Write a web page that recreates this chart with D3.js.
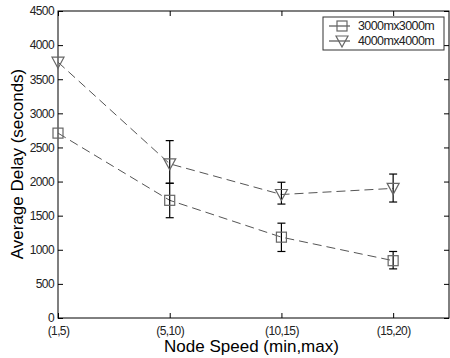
<!DOCTYPE html>
<html lang="en">
<head>
  <meta charset="UTF-8">
  <title>Average Delay vs Node Speed</title>
  <script src="https://d3js.org/d3.v7.min.js"></script>
  <style>
    body { margin: 0; background: #fff; }
    text { font-family: "Liberation Sans", Arial, sans-serif; }
  </style>
</head>
<body>
  <svg width="450" height="358"></svg>

  <script>
    // Categories and values
    var speeds = ["(1,5)", "(5,10)", "(10,15)", "(15,20)"];
    var seriesNames = ["3000mx3000m", "4000mx4000m"];
    var delaySmall = [2710, 1725, 1185, 840];
    var lowSmall = [null, 1470, 975, 720];
    var highSmall = [null, 1975, 1390, 975];
    var delayLarge = [3750, 2260, 1810, 1900];
    var lowLarge = [null, 1975, 1670, 1700];
    var highLarge = [null, 2600, 1990, 2110];
    var yTicks = [0, 500, 1000, 1500, 2000, 2500, 3000, 3500, 4000, 4500];

    var svg = d3.select("svg");
    var padL = 58, padR = 449, padT = 11, padB = 318;

    var x = d3.scaleLinear().domain([0, 3.5]).range([padL, padR]);
    var y = d3.scaleLinear().domain([0, 4500]).range([padB, padT]);

    // Frame
    svg.append("rect")
        .attr("x", padL).attr("y", padT)
        .attr("width", padR - padL).attr("height", padB - padT)
        .attr("fill", "none").attr("stroke", "#000").attr("stroke-width", 1);

    // Axes (ticks pointing inward)
    var yAxis = d3.axisLeft(y).tickValues(yTicks).tickFormat(d3.format("d"))
        .tickSize(-5).tickPadding(4);
    var yG = svg.append("g").attr("transform", "translate(" + padL + ",0)").call(yAxis);
    var yR = svg.append("g").attr("transform", "translate(" + padR + ",0)")
        .call(d3.axisRight(y).tickValues(yTicks).tickSize(-5).tickFormat(""));

    var xAxis = d3.axisBottom(x).tickValues(d3.range(speeds.length))
        .tickFormat(function(i) { return speeds[i]; }).tickSize(-5).tickPadding(5);
    var xG = svg.append("g").attr("transform", "translate(0," + padB + ")").call(xAxis);
    var xT = svg.append("g").attr("transform", "translate(0," + padT + ")")
        .call(d3.axisTop(x).tickValues(d3.range(speeds.length)).tickSize(-5).tickFormat(""));

    [yG, yR, xG, xT].forEach(function(g) {
      g.select(".domain").remove();
      g.selectAll("text")
          .attr("font-size", 12)
          .attr("fill", "#222")
          .attr("letter-spacing", "-0.6px");
      g.selectAll("line").attr("stroke", "#000");
    });
    xG.selectAll("text").attr("dy", "1em");

    // Axis titles
    svg.append("text")
        .attr("x", (padL + padR) / 2 - 2).attr("y", 352)
        .attr("text-anchor", "middle").attr("font-size", 17)
        .text("Node Speed (min,max)");
    svg.append("text")
        .attr("transform", "translate(23," + 164 + ") rotate(-90)")
        .attr("text-anchor", "middle").attr("font-size", 17)
        .text("Average Delay (seconds)");

    var line = d3.line()
        .x(function(d, i) { return x(i); })
        .y(function(d) { return y(d); });

    var series = [
      { name: seriesNames[0], vals: delaySmall, lo: lowSmall, hi: highSmall, marker: "square" },
      { name: seriesNames[1], vals: delayLarge, lo: lowLarge, hi: highLarge, marker: "tri" }
    ];

    function drawMarker(g, type, cx, cy) {
      if (type === "square") {
        g.append("rect")
            .attr("x", cx - 5).attr("y", cy - 5)
            .attr("width", 10).attr("height", 10)
            .attr("fill", "none").attr("stroke", "#666").attr("stroke-width", 1.2);
      } else {
        g.append("path")
            .attr("d", "M" + (cx - 6) + "," + (cy - 5) + "L" + (cx + 6) + "," + (cy - 5) + "L" + cx + "," + (cy + 6) + "Z")
            .attr("fill", "none").attr("stroke", "#666").attr("stroke-width", 1.2);
      }
    }

    series.forEach(function(s) {
      svg.append("path")
          .datum(s.vals)
          .attr("d", line)
          .attr("fill", "none")
          .attr("stroke", "#555")
          .attr("stroke-width", 1)
          .attr("stroke-dasharray", "9,5");

      var g = svg.append("g");
      s.vals.forEach(function(v, i) {
        if (s.lo[i] != null) {
          var cx = x(i);
          g.append("line").attr("x1", cx).attr("x2", cx)
              .attr("y1", y(s.lo[i])).attr("y2", y(s.hi[i]))
              .attr("stroke", "#000").attr("stroke-width", 1.2);
          [s.lo[i], s.hi[i]].forEach(function(e) {
            g.append("line").attr("x1", cx - 4).attr("x2", cx + 4)
                .attr("y1", y(e)).attr("y2", y(e))
                .attr("stroke", "#000").attr("stroke-width", 1.2);
          });
        }
        drawMarker(g, s.marker, x(i), y(v));
      });
    });

    // Legend
    var lg = svg.append("g").attr("transform", "translate(323,17)");
    lg.append("rect").attr("width", 121).attr("height", 33)
        .attr("fill", "#fff").attr("stroke", "#333").attr("stroke-width", 1);
    series.forEach(function(s, i) {
      var yy = 9 + i * 15;
      lg.append("line").attr("x1", 6).attr("x2", 27).attr("y1", yy).attr("y2", yy)
          .attr("stroke", "#333").attr("stroke-width", 1);
      drawMarker(lg, s.marker, 19, yy);
      lg.append("text").attr("x", 35).attr("y", yy + 4)
          .attr("font-size", 12.5).attr("fill", "#222").attr("letter-spacing", "-0.6px")
          .text(s.name);
    });
  </script>
</body>
</html>
